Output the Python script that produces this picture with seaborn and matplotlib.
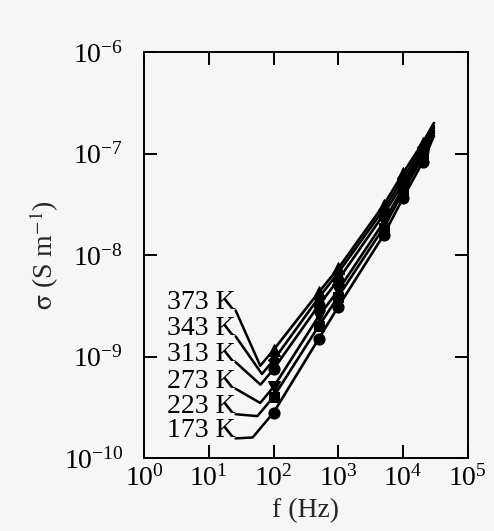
import numpy as np
import pandas as pd
import matplotlib
matplotlib.use("Agg")
import matplotlib.pyplot as plt
import matplotlib.ticker as mticker
import seaborn as sns

# Frequencies (Hz) and AC conductivity (S/m) for each temperature
freq = [100, 500, 1000, 5000, 10000, 20000, 30000]
temps = ["373 K", "343 K", "313 K", "273 K", "223 K", "173 K"]
sigma_373 = [1.16e-9, 4.3e-9, 7.4e-9, 3.1e-8, 6.4e-8, 1.27e-7, 2.0e-7]
sigma_343 = [9.2e-10, 3.8e-9, 6.7e-9, 2.8e-8, 5.7e-8, 1.16e-7, 1.87e-7]
sigma_313 = [7.5e-10, 3.2e-9, 5.7e-9, 2.5e-8, 5.1e-8, 1.06e-7, 1.78e-7]
sigma_273 = [5.0e-10, 2.5e-9, 4.5e-9, 2.1e-8, 4.6e-8, 9.9e-8, 1.67e-7]
sigma_223 = [4.0e-10, 2.0e-9, 3.9e-9, 1.85e-8, 4.2e-8, 9.2e-8, 1.59e-7]
sigma_173 = [2.8e-10, 1.5e-9, 3.1e-9, 1.57e-8, 3.65e-8, 8.2e-8, 1.49e-7]
series = [sigma_373, sigma_343, sigma_313, sigma_273, sigma_223, sigma_173]

# Label placement (text anchor in data units) and leader-line angles
label_f = 26
label_sigma = [3.37e-9, 1.87e-9, 1.04e-9, 5.7e-10, 3.2e-10, 1.85e-10]
leader_angle = [-66, -55, -42, -30, -5, 3]
marker_styles = ["^", "D", "o", "v", "s", "o"]
marker_sizes = [8, 6, 8, 8, 7, 8]

sns.set_style("ticks")
plt.rcParams["font.family"] = ["Liberation Serif", "DejaVu Serif"]
plt.rcParams["mathtext.fontset"] = "stix"

bg = "#f6f6f6"
fig = plt.figure(figsize=(4.94, 5.31), dpi=100, facecolor=bg)
ax = fig.add_axes([0.2915, 0.1375, 0.6555, 0.7645])
ax.set_facecolor(bg)
ax.set_xscale("log")
ax.set_yscale("log")

for vals, m, ms in zip(series, marker_styles, marker_sizes):
    df = pd.DataFrame({"f": freq, "sigma": vals})
    sns.lineplot(data=df, x="f", y="sigma", ax=ax, color="black", lw=1.9,
                 marker=m, markersize=ms, markeredgecolor="black",
                 markerfacecolor="black", markevery=list(range(len(freq) - 1)),
                 solid_capstyle="round")

for name, vals, ly, ang in zip(temps, series, label_sigma, leader_angle):
    ax.annotate(name, xy=(freq[0], vals[0]), xytext=(label_f, ly),
                textcoords="data", ha="right", va="center", fontsize=20,
                color="black",
                arrowprops=dict(arrowstyle="-", color="black", lw=1.8,
                                connectionstyle=f"angle,angleA={ang},angleB=50,rad=0",
                                relpos=(1.0, 0.2), shrinkA=0, shrinkB=0,
                                patchA=None))

ax.set_xlim(1, 1e5)
ax.set_ylim(1e-10, 1e-6)
ax.xaxis.set_major_locator(mticker.LogLocator(base=10, numticks=10))
ax.yaxis.set_major_locator(mticker.LogLocator(base=10, numticks=10))
ax.xaxis.set_minor_locator(mticker.NullLocator())
ax.yaxis.set_minor_locator(mticker.NullLocator())
ax.xaxis.set_major_formatter(mticker.LogFormatterMathtext())
ax.yaxis.set_major_formatter(mticker.LogFormatterMathtext())
ax.tick_params(which="major", direction="in", length=9.5, width=1.4,
               top=True, right=True, labelsize=20, colors="black")
ax.tick_params(axis="x", pad=5)
ax.tick_params(axis="y", pad=15)
for s in ax.spines.values():
    s.set_linewidth(1.4)
    s.set_color("black")

ax.set_xlabel("f (Hz)", fontsize=20, labelpad=5)
ax.set_ylabel(r"$\mathrm{\sigma}$ (S m$^{-1}$)", fontsize=20, labelpad=2)

fig.savefig("out.png", dpi=100, facecolor=bg)
